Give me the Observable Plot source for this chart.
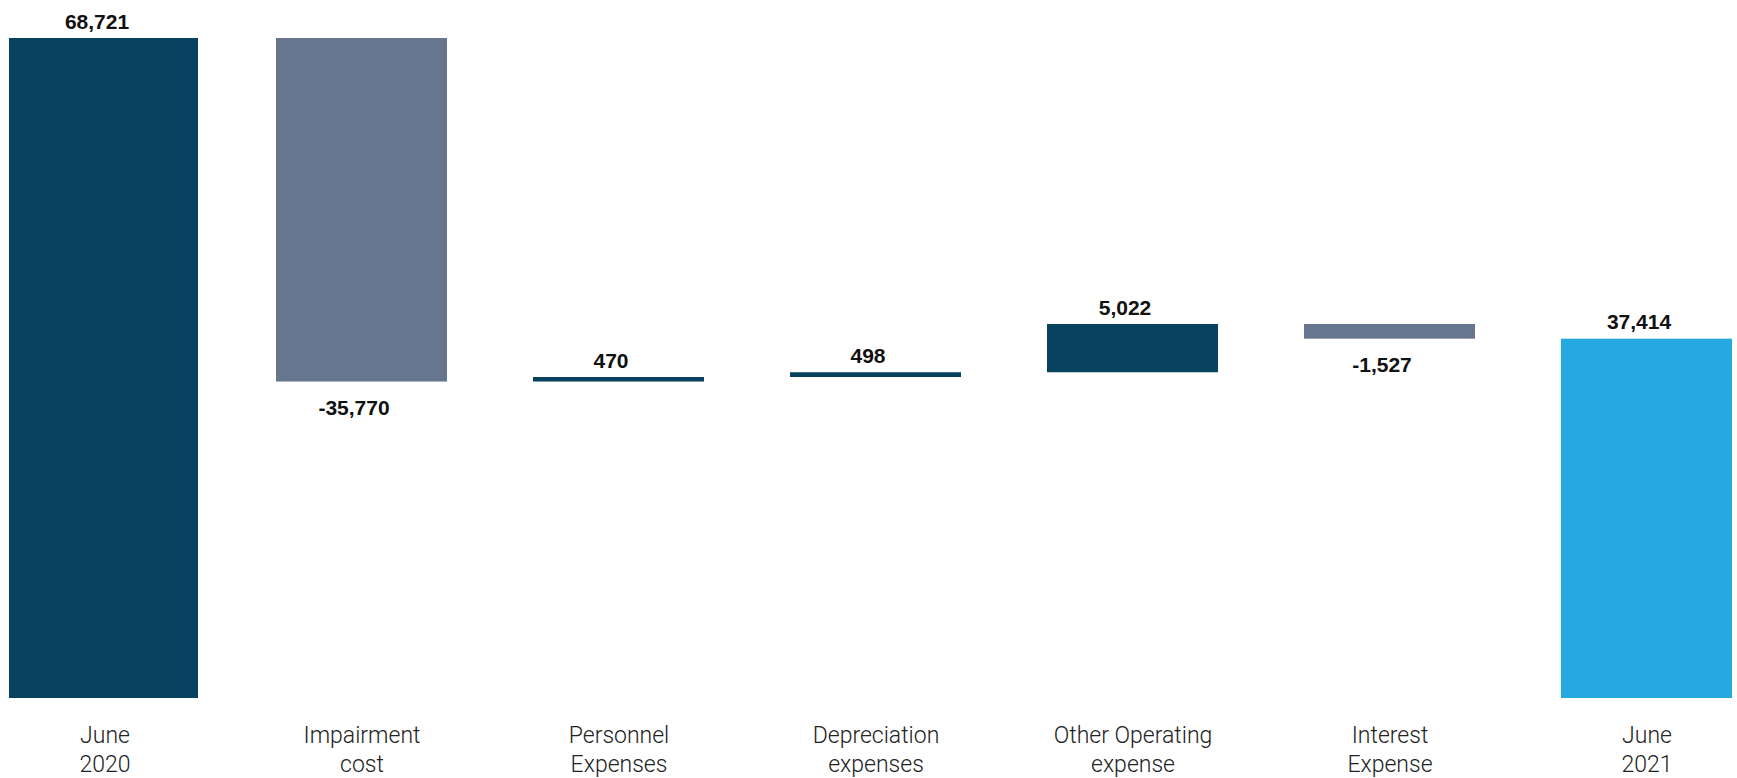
<!DOCTYPE html>
<html>
<head>
<meta charset="utf-8">
<script src="https://cdn.jsdelivr.net/npm/d3@7"></script>
<script src="https://cdn.jsdelivr.net/npm/@observablehq/plot@0.6"></script>
<style>
  html, body { margin: 0; padding: 0; background: #fff; }
  #chart { width: 1737px; height: 778px; }
</style>
</head>
<body>
<div id="chart"></div>
<script>
const categories = ["June\n2020", "Impairment\ncost", "Personnel\nExpenses", "Depreciation\nexpenses", "Other Operating\nexpense", "Interest\nExpense", "June\n2021"];
const values = [68721, -35770, 470, 498, 5022, -1527, 37414];
const kinds = ["start", "delta", "delta", "delta", "delta", "delta", "end"];
const colors = {start: "#07425f", up: "#07425f", down: "#67768f", end: "#26a9e0"};

let running = 0;
const rows = categories.map((c, i) => {
  const v = values[i];
  let y1, y2, kind;
  if (kinds[i] === "start" || kinds[i] === "end") {
    y1 = 0; y2 = v; running = v; kind = kinds[i];
  } else {
    y1 = running; y2 = running + v; running = y2; kind = v >= 0 ? "up" : "down";
  }
  return {cat: c, value: v, y1, y2, top: Math.max(y1, y2), bottom: Math.min(y1, y2), kind,
          label: v.toLocaleString("en-US")};
});

const valueFont = {fontSize: 21, fontWeight: 700, fill: "#111", fontFamily: "Liberation Sans"};

const chart = Plot.plot({
  width: 1737,
  height: 778,
  marginTop: 38,
  marginBottom: 80,
  marginLeft: 17.6,
  marginRight: 4,
  x: {domain: categories, paddingInner: 0.3357, paddingOuter: 0, label: null},
  y: {domain: [0, 68721], axis: null},
  marks: [
    Plot.barY(rows.filter(d => d.kind === "start"), {x: "cat", y1: "y1", y2: "y2", fill: d => colors[d.kind], insetLeft: -10, insetRight: -8}),
    Plot.barY(rows.filter(d => d.kind !== "start"), {x: "cat", y1: "y1", y2: "y2", fill: d => colors[d.kind]}),
    Plot.text(rows.filter(d => d.kind !== "down"), {
      x: "cat", y: "top", text: "label", lineAnchor: "bottom", dy: -10, dx: -8, ...valueFont
    }),
    Plot.text(rows.filter(d => d.kind === "down"), {
      x: "cat", y: "bottom", text: "label", lineAnchor: "top", dy: 18, dx: -8, ...valueFont
    }),
    Plot.axisX({tickSize: 0, tickPadding: 24, fontSize: 23, fontWeight: 300, lineHeight: 1.26,
                fontFamily: "Roboto", fill: "#222", label: null})
  ],
  style: {fontFamily: "Roboto", background: "#fff"}
});
chart.setAttribute("fill", "currentColor");
document.getElementById("chart").appendChild(chart);
</script>
</body>
</html>
